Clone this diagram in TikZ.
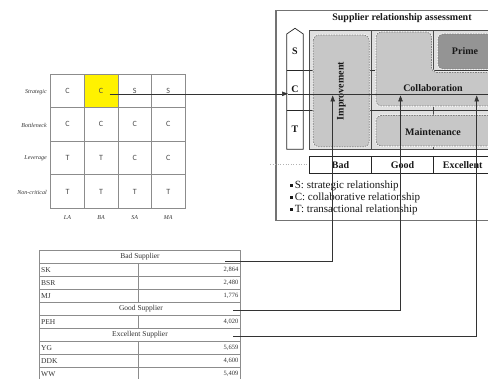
\documentclass[tikz,border=0pt]{standalone}
\usepackage{fontspec}
\setmainfont{Liberation Serif}
\newfontfamily\cellfont{Carlito}
\usetikzlibrary{arrows.meta,calc}
\begin{document}
\begin{tikzpicture}[x=1pt,y=-1pt,
  gridln/.style={draw=black!45,line width=0.8pt},
  cellbox/.style={draw=black!45,line width=0.8pt,minimum width=33.6pt,minimum height=33.6pt,inner sep=0pt,
     font=\cellfont\fontsize{8}{9}\selectfont,text=black!70},
  rowlab/.style={anchor=east,inner sep=0pt,font=\itshape\fontsize{6}{7}\selectfont,text=black!80},
  collab/.style={inner sep=0pt,font=\itshape\fontsize{6}{7}\selectfont,text=black!80},
  bold10/.style={inner sep=0pt,font=\bfseries\fontsize{10}{12}\selectfont,text=black!90},
  zone/.style={fill=black!22,rounded corners=5pt,
     preaction={draw=white,line width=1.6pt},
     draw=black!50,line width=0.7pt,dash pattern=on 1.6pt off 1pt},
  primezone/.style={zone,fill=black!42},
  conn/.style={draw=black!80,line width=0.5pt},
  tip/.style={-{Triangle[length=6pt,width=4.5pt]}},
  tline/.style={draw=black!45,line width=0.8pt},
  ttext/.style={inner sep=0pt,font=\fontsize{7.5}{8}\selectfont,text=black!80},
  tnum/.style={inner sep=0pt,font=\fontsize{6.5}{7}\selectfont,text=black!80,anchor=east},
  bullettext/.style={anchor=west,inner sep=0pt,font=\fontsize{11}{12}\selectfont,text=black!90}
]
\useasboundingbox (0,0) rectangle (488,379);
\clip (0,0) rectangle (488,379);
\fill[white] (0,0) rectangle (488,379);

% ---------- matrix ----------
\foreach \r/\row in {1/{C,C,S,S},2/{C,C,C,C},3/{T,T,C,C},4/{T,T,T,T}}{
  \foreach \l [count=\c] in \row {
    \node[cellbox] (m-\r-\c) at ({50.7+33.6*(\c-0.5)},{74+33.6*(\r-0.5)}) {\l};
  }
}
\node[cellbox,fill=yellow] (m-1-2) at ({50.7+33.6*1.5},{74+33.6*0.5}) {C};
\node[rowlab] (rl1) at (47,92) {Strategic};
\node[rowlab] (rl2) at (47,125) {Bottleneck};
\node[rowlab] (rl3) at (47,158.5) {Leverage};
\node[rowlab] (rl4) at (47,192) {Non-critical};
\node[collab] (cl1) at (67.5,218) {LA};
\node[collab] (cl2) at (101.1,218) {BA};
\node[collab] (cl3) at (134.7,218) {SA};
\node[collab] (cl4) at (168.3,218) {MA};

% ---------- assessment box ----------
\draw[draw=black!55,line width=1.1pt] (276,10.5) rectangle (497,220.5);
\node[bold10] (title) at (402,18) {Supplier relationship assessment};

% inner grid box
\draw[fill=black!12,draw=black!70,line width=0.7pt] (309.3,30.3) rectangle (497,149.3);
\draw[draw=black!70,line width=0.6pt] (371.7,30.3) -- (371.7,149.3);
\draw[draw=black!70,line width=0.6pt] (433.3,30.3) -- (433.3,149.3);
\draw[draw=black!80,line width=0.6pt] (286.7,70.7) -- (497,70.7);
\draw[draw=black!80,line width=0.6pt] (286.7,110) -- (497,110);

% zones
\draw[zone] (313.3,35) rectangle (369.3,146.7);
\draw[zone] (376,32) -- (431.5,32) -- (431.5,72.5) -- (500,72.5) -- (500,106) -- (376,106) -- cycle;
\draw[primezone] (438,34) rectangle (500,69);
\draw[zone] (376,115.5) rectangle (500,146);
\node[bold10,rotate=90] (impr) at (341.5,91) {Improvement};
\node[bold10] (collz) at (433,88) {Collaboration};
\node[bold10] (prime) at (465,51) {Prime};
\node[bold10] (maint) at (433,132) {Maintenance};

% S C T arrow
\draw[fill=white,draw=black!85,line width=0.7pt] (286.7,34) -- (295,28.3) -- (303.3,34) -- (303.3,149.3) -- (286.7,149.3) -- cycle;
\draw[draw=black!85,line width=0.6pt] (286.7,70.7) -- (303.3,70.7) (286.7,110) -- (303.3,110);
\node[bold10] (sctS) at (295,51) {S};
\node[bold10] (sctC) at (295,89) {C};
\node[bold10] (sctT) at (295,129) {T};

% Bad / Good / Excellent bar
\draw[fill=white,draw=black!85,line width=0.7pt] (309.3,156.7) rectangle (497,173.3);
\draw[draw=black!85,line width=0.6pt] (371.3,156.7) -- (371.3,173.3) (433.3,156.7) -- (433.3,173.3);
\draw[draw=black!30,line width=0.6pt,dotted] (270,164) -- (307,164);
\node[bold10] (bad) at (340.5,165) {Bad};
\node[bold10] (good) at (402.5,165) {Good};
\node[bold10] (exc) at (462.7,165) {Excellent};

% legend
\node[bullettext] (lg1) at (289.5,185.5) {\raisebox{1.3pt}{\rule{3.3pt}{3.3pt}}\,S: strategic relationship};
\node[bullettext] (lg2) at (289.5,197.5) {\raisebox{1.3pt}{\rule{3.3pt}{3.3pt}}\,C: collaborative relationship};
\node[bullettext] (lg3) at (289.5,209.5) {\raisebox{1.3pt}{\rule{3.3pt}{3.3pt}}\,T: transactional relationship};

% ---------- table ----------
\def\ty#1{250+13.08*(#1)}
\draw[tline] (39.3,250) rectangle (240.7,380.8);
\foreach \k in {1,...,9} \draw[tline] (39.3,{\ty{\k}}) -- (240.7,{\ty{\k}});
\draw[tline] (138.3,{\ty{1}}) -- (138.3,{\ty{4}});
\draw[tline] (138.3,{\ty{5}}) -- (138.3,{\ty{6}});
\draw[tline] (138.3,{\ty{7}}) -- (138.3,380.8);
\node[ttext] (hBad) at (140,{\ty{0.5}}) {Bad Supplier};
\node[ttext] (hGood) at (141,{\ty{4.5}}) {Good Supplier};
\node[ttext] (hExc) at (140,{\ty{6.5}}) {Excellent Supplier};
\foreach \k/\n/\v in {1/SK/{2,864},2/BSR/{2,480},3/MJ/{1,776},5/PEH/{4,020},7/YG/{5,659},8/DDK/{4,600},9/WW/{5,409}}{
  \node[ttext,anchor=west] (n\k) at (41,{\ty{\k+0.5}}) {\n};
  \node[tnum] (v\k) at (238.5,{\ty{\k+0.5}}) {\v};
}

% ---------- connectors ----------
\coordinate (a0) at (109.5,93.8);
\coordinate (cin) at (288,93.8);
\coordinate (aend) at (500,93.8);
\draw[conn,tip] (a0) -- (cin);
\draw[conn] (cin) -- (aend);

\coordinate (bS) at (225,261.7);
\coordinate (gS) at (233.3,310);
\coordinate (eS) at (233.3,336);
\coordinate (bT) at (332.7,95.5);
\coordinate (gT) at (400.5,95.5);
\coordinate (eT) at (476.7,95.5);
\draw[conn,tip] (bS) -| (bT);
\draw[conn,tip] (gS) -| (gT);
\draw[conn,tip] (eS) -| (eT);
\end{tikzpicture}
\end{document}
